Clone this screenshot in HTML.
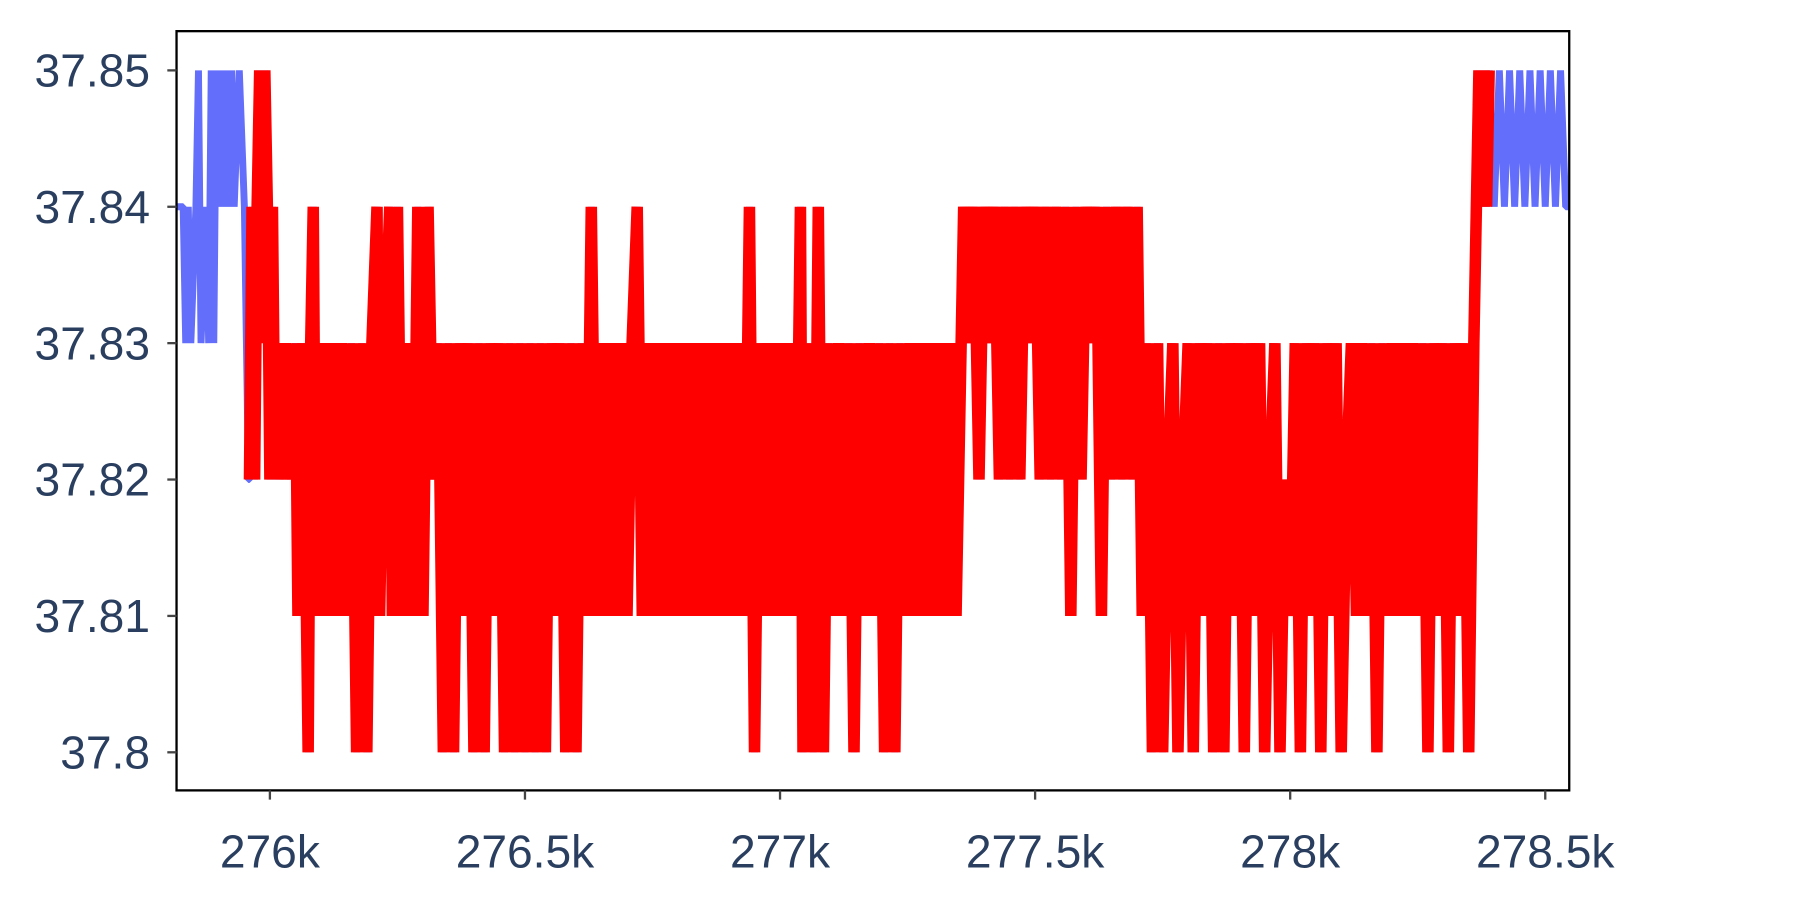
<!DOCTYPE html>
<html><head><meta charset="utf-8"><style>
html,body{margin:0;padding:0;background:#fff;}
svg{display:block;}
text{font-family:"Liberation Sans",sans-serif;fill:#2a3f5f;}
</style></head><body>
<svg id="chart" width="1800" height="900" viewBox="0 0 1560 780" xmlns="http://www.w3.org/2000/svg">
<rect x="0" y="0" width="1560" height="780" fill="#fff"/>
<g id="grid"></g>
<g id="series" clip-path="url(#clip)"></g>
<clipPath id="clip"><rect x="153" y="27" width="1207" height="658"/></clipPath>
<rect x="153" y="27" width="1207" height="658" fill="none" stroke="#000" stroke-width="2"/>
<g id="axes"></g>
</svg>
<script>
const xTicks=[276000,276500,277000,277500,278000,278500];
const xTickLabels=["276k","276.5k","277k","277.5k","278k","278.5k"];
const yTicks=[37.80,37.81,37.82,37.83,37.84,37.85];
const yTickLabels=["37.8","37.81","37.82","37.83","37.84","37.85"];
const redX=[275960,275965,275970,275975,275980,275985,275990,275995,276000,276005,276010,276015,276020,276030,276040,276050,276055,276065,276075,276080,276085,276090,276100,276110,276120,276130,276140,276150,276160,276170,276180,276190,276200,276210,276215,276225,276235,276240,276250,276260,276270,276280,276290,276300,276310,276320,276330,276340,276350,276360,276370,276380,276390,276400,276410,276420,276430,276440,276450,276460,276470,276480,276490,276500,276510,276520,276530,276540,276550,276560,276570,276580,276590,276600,276610,276620,276630,276640,276650,276660,276670,276680,276690,276700,276710,276720,276730,276740,276750,276760,276770,276780,276790,276800,276810,276820,276830,276840,276850,276860,276870,276880,276890,276900,276910,276920,276930,276940,276950,276960,276970,276980,276990,277000,277010,277020,277030,277040,277045,277055,277065,277075,277085,277095,277105,277115,277125,277135,277145,277155,277165,277175,277185,277195,277205,277215,277225,277235,277245,277255,277265,277275,277285,277295,277305,277315,277325,277335,277345,277355,277360,277370,277380,277390,277400,277410,277420,277430,277440,277450,277460,277470,277480,277490,277500,277510,277520,277530,277540,277550,277560,277570,277580,277590,277600,277610,277620,277630,277640,277650,277660,277670,277680,277690,277700,277710,277720,277730,277740,277750,277760,277770,277780,277790,277800,277810,277820,277830,277840,277850,277860,277870,277880,277890,277900,277910,277920,277930,277940,277950,277960,277970,277980,277990,278000,278010,278020,278030,278040,278050,278060,278070,278080,278090,278100,278110,278120,278130,278140,278150,278160,278170,278180,278190,278200,278210,278220,278230,278240,278250,278260,278270,278280,278290,278300,278310,278320,278330,278340,278350,278360,278370,278375,278380,278385,278390];
const redY=[37.82,37.84,37.82,37.84,37.85,37.83,37.85,37.84,37.82,37.84,37.82,37.83,37.82,37.83,37.82,37.83,37.81,37.83,37.80,37.83,37.84,37.81,37.83,37.81,37.83,37.81,37.83,37.81,37.83,37.80,37.83,37.80,37.83,37.84,37.81,37.83,37.84,37.81,37.84,37.81,37.83,37.81,37.84,37.81,37.84,37.82,37.83,37.80,37.83,37.80,37.83,37.81,37.83,37.80,37.83,37.80,37.83,37.81,37.83,37.80,37.83,37.80,37.83,37.80,37.83,37.80,37.83,37.80,37.83,37.81,37.83,37.80,37.83,37.80,37.83,37.81,37.84,37.81,37.83,37.81,37.83,37.81,37.83,37.81,37.83,37.84,37.81,37.83,37.81,37.83,37.81,37.83,37.81,37.83,37.81,37.83,37.81,37.83,37.81,37.83,37.81,37.83,37.81,37.83,37.81,37.83,37.81,37.84,37.80,37.83,37.81,37.83,37.81,37.83,37.81,37.83,37.81,37.84,37.80,37.83,37.80,37.84,37.80,37.83,37.81,37.83,37.81,37.83,37.80,37.83,37.81,37.83,37.81,37.83,37.80,37.83,37.80,37.83,37.81,37.83,37.81,37.83,37.81,37.83,37.81,37.83,37.81,37.83,37.81,37.83,37.84,37.83,37.84,37.82,37.84,37.83,37.84,37.82,37.84,37.82,37.84,37.82,37.84,37.83,37.84,37.82,37.84,37.82,37.84,37.82,37.84,37.81,37.84,37.82,37.84,37.83,37.84,37.81,37.84,37.82,37.84,37.82,37.84,37.82,37.84,37.81,37.83,37.80,37.83,37.80,37.82,37.83,37.80,37.82,37.83,37.80,37.83,37.81,37.83,37.80,37.83,37.80,37.83,37.81,37.83,37.80,37.83,37.81,37.83,37.80,37.82,37.83,37.80,37.82,37.81,37.83,37.80,37.83,37.81,37.83,37.80,37.83,37.81,37.83,37.80,37.82,37.83,37.81,37.83,37.81,37.83,37.80,37.83,37.81,37.83,37.81,37.83,37.81,37.83,37.81,37.83,37.80,37.83,37.81,37.83,37.80,37.83,37.81,37.83,37.80,37.83,37.85,37.84,37.85,37.84,37.85];
const blueStartX=[275817,275830,275835,275840,275845,275855,275860,275865,275875,275880,275885,275890,275895,275900,275905,275910,275915,275920,275925,275930,275940,275950,275958];
const blueStartY=[37.84,37.84,37.83,37.84,37.83,37.84,37.85,37.83,37.84,37.83,37.85,37.83,37.85,37.84,37.85,37.84,37.85,37.84,37.85,37.84,37.85,37.84,37.82];
const blueEndX=[278400,278410,278420,278430,278440,278450,278460,278470,278480,278490,278500,278510,278520,278530,278540,278547];
const blueEndY=[37.84,37.85,37.84,37.85,37.84,37.85,37.84,37.85,37.84,37.85,37.84,37.85,37.84,37.85,37.84,37.84];

const NS="http://www.w3.org/2000/svg";
const xMin=275817,xMax=278547,pxL=153,pxR=1360;
const yA=37.80,yB=37.85,pyA=652,pyB=61;
function sx(v){return pxL+(v-xMin)/(xMax-xMin)*(pxR-pxL);}
function sy(v){return pyA+(v-yA)/(yB-yA)*(pyB-pyA);}
const axes=document.getElementById('axes');
const series=document.getElementById('series');
yTicks.forEach((t,i)=>{
  const l=document.createElementNS(NS,'line');
  l.setAttribute('x1',145);l.setAttribute('x2',153);l.setAttribute('y1',sy(t));l.setAttribute('y2',sy(t));
  l.setAttribute('stroke','#444');l.setAttribute('stroke-width',2);
  
  
  axes.appendChild(l);
  const tx=document.createElementNS(NS,'text');
  tx.setAttribute('x',130);tx.setAttribute('y',sy(t)+14);tx.setAttribute('text-anchor','end');tx.setAttribute('font-size',40);
  tx.textContent=yTickLabels[i];
  
  
  axes.appendChild(tx);
});
xTicks.forEach((t,i)=>{
  const l=document.createElementNS(NS,'line');
  l.setAttribute('x1',sx(t));l.setAttribute('x2',sx(t));l.setAttribute('y1',685);l.setAttribute('y2',693);
  l.setAttribute('stroke','#444');l.setAttribute('stroke-width',2);
  
  
  axes.appendChild(l);
  const tx=document.createElementNS(NS,'text');
  tx.setAttribute('x',sx(t));tx.setAttribute('y',752);tx.setAttribute('text-anchor','middle');tx.setAttribute('font-size',40);
  tx.textContent=xTickLabels[i];
  
  
  axes.appendChild(tx);
});
function pathD(xs,ys){return xs.map((x,i)=>(i?'L':'M')+sx(x).toFixed(2)+','+sy(ys[i]).toFixed(2)).join('');}
const bx=blueStartX.concat(redX,blueEndX), by=blueStartY.concat(redY,blueEndY);
const bp=document.createElementNS(NS,'path');
bp.setAttribute('d',pathD(bx,by));bp.setAttribute('fill','none');bp.setAttribute('stroke','#636efa');bp.setAttribute('stroke-width',6);bp.setAttribute('stroke-linejoin','bevel');


series.appendChild(bp);
const rp=document.createElementNS(NS,'path');
rp.setAttribute('d',pathD(redX,redY));rp.setAttribute('fill','none');rp.setAttribute('stroke','#ff0000');rp.setAttribute('stroke-width',10);rp.setAttribute('stroke-linejoin','bevel');


series.appendChild(rp);
</script>
</body></html>
